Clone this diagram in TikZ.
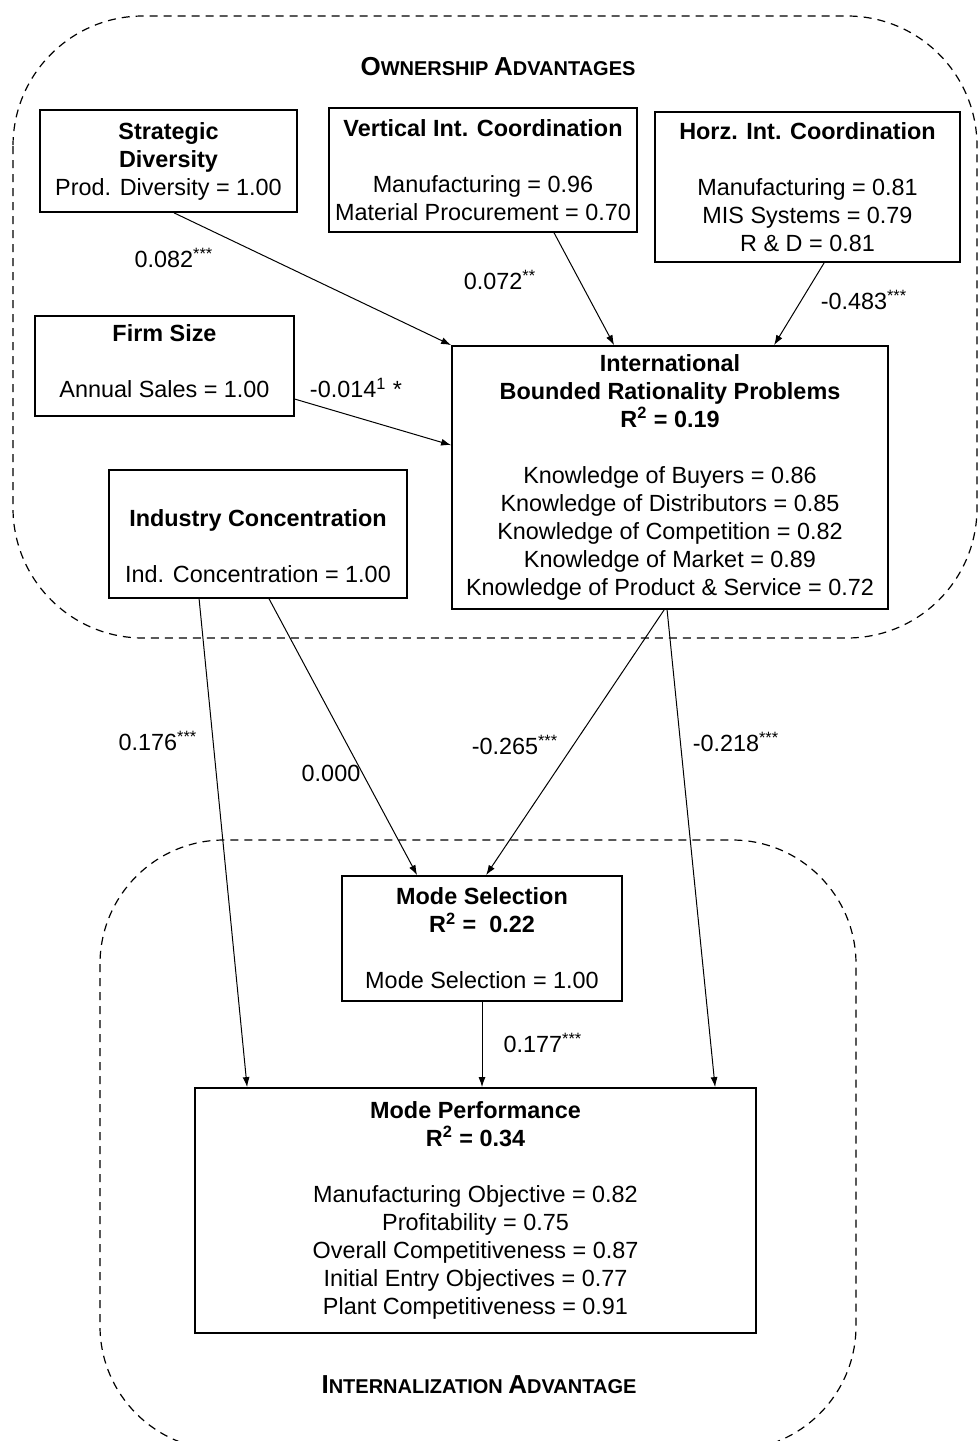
\documentclass[tikz,border=0pt]{standalone}
\usepackage{fontspec}
\setmainfont{Liberation Sans}
\usetikzlibrary{arrows.meta,calc}
\newcommand\fsc[2]{{\fontsize{13}{14}\selectfont #1}{\fontsize{10}{14}\selectfont #2}}
\begin{document}
\begin{tikzpicture}[x=0.5pt,y=-0.5pt,
 box/.style={draw,line width=0.9pt,align=center,inner sep=0pt,font=\fontsize{11.7}{14}\selectfont},
 conn/.style={line width=0.5pt,-{Latex[length=5pt,width=3.5pt]}},
 lab/.style={font=\fontsize{11.7}{14}\selectfont,inner sep=0pt},
 region/.style={dash pattern=on 4pt off 3pt,line width=0.6pt,rounded corners=65pt},
]
\useasboundingbox (0,0) rectangle (978,1441);
\begin{scope}
\clip (0,0) rectangle (978,1441);
\draw[region] (13,16) rectangle (977,638);
\draw[region,rounded corners=62pt] (100,840) rectangle (856,1450);
\end{scope}

\node[lab,font=\bfseries] (own) at (498,67) {\fsc{O}{WNERSHIP} \fsc{A}{DVANTAGES}};
\node[lab,font=\bfseries] (int) at (479,1385) {\fsc{I}{NTERNALIZATION} \fsc{A}{DVANTAGE}};

\node[box,minimum width=128.5pt,minimum height=51pt] (sd) at (168.5,161)
 {\textbf{Strategic}\\\textbf{Diversity}\\Prod. Diversity = 1.00};
\node[box,minimum width=154pt,minimum height=62pt] (vi) at (483,170)
 {\textbf{Vertical Int. Coordination}\\[14pt]Manufacturing = 0.96\\Material Procurement = 0.70};
\node[box,minimum width=152.5pt,minimum height=75pt] (hz) at (807.5,187)
 {\textbf{Horz. Int. Coordination}\\[14pt]Manufacturing = 0.81\\MIS Systems = 0.79\\R \& D = 0.81};
\node[box,minimum width=129.5pt,minimum height=50pt] (fs) at (164.5,366)
 {\textbf{Firm Size}\\[14pt]Annual Sales = 1.00\rule[-5pt]{0pt}{5pt}};
\node[box,minimum width=218pt,minimum height=131.5pt] (ib) at (670,477.5)
 {\textbf{International}\\\textbf{Bounded Rationality Problems}\\\textbf{R\textsuperscript{2} = 0.19}\\[14pt]Knowledge of Buyers = 0.86\\Knowledge of Distributors = 0.85\\Knowledge of Competition = 0.82\\Knowledge of Market = 0.89\\Knowledge of Product \& Service = 0.72};
\node[box,minimum width=149pt,minimum height=64pt] (ic) at (258,534)
 {\rule{0pt}{20.5pt}\textbf{Industry Concentration}\\[14pt]Ind. Concentration = 1.00};
\node[box,minimum width=140pt,minimum height=62.5pt] (ms) at (482,938.5)
 {\textbf{Mode Selection}\\\textbf{R\textsuperscript{2} =\ \ 0.22}\\[14pt]Mode Selection = 1.00};
\node[box,minimum width=280.5pt,minimum height=122.5pt] (mp) at (475.5,1210.5)
 {\textbf{Mode Performance}\\\textbf{R\textsuperscript{2} = 0.34}\\[14pt]Manufacturing Objective = 0.82\\Profitability = 0.75\\Overall Competitiveness = 0.87\\Initial Entry Objectives = 0.77\\Plant Competitiveness = 0.91};

\draw[conn] ($(sd.south west)+(135,0)$) -- (ib.north west);
\draw[conn] ($(vi.south west)+(226,0)$) -- ($(ib.north west)+(163,0)$);
\draw[conn] ($(hz.south west)+(170,0)$) -- ($(ib.north west)+(323,0)$);
\draw[conn] ($(fs.north east)+(0,84)$) -- ($(ib.north west)+(0,100)$);
\draw[conn] ($(ic.south west)+(91,0)$) -- ($(mp.north west)+(53,0)$);
\draw[conn] ($(ic.south west)+(161,0)$) -- ($(ms.north west)+(76,0)$);
\draw[conn] ($(ib.south west)+(213,0)$) -- ($(ms.north west)+(145,0)$);
\draw[conn] ($(ib.south west)+(216,0)$) -- ($(mp.north west)+(521,0)$);
\draw[conn] (ms.south) -- (ms.south |- mp.north);

\node[lab] (l1) at (174,258) {0.082\textsuperscript{***}};
\node[lab] (l2) at (500,280) {0.072\textsuperscript{**}};
\node[lab] (l3) at (864,300) {-0.483\textsuperscript{***}};
\node[lab] (l4) at (356,388) {-0.014\textsuperscript{1} *};
\node[lab] (l5) at (158,741) {0.176\textsuperscript{***}};
\node[lab] (l6) at (331,773) {0.000};
\node[lab] (l7) at (515,745) {-0.265\textsuperscript{***}};
\node[lab] (l8) at (736,742) {-0.218\textsuperscript{***}};
\node[lab] (l9) at (543,1043) {0.177\textsuperscript{***}};
\end{tikzpicture}
\end{document}
